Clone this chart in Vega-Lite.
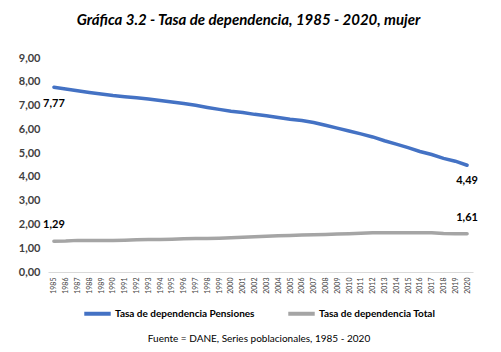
{
  "$schema": "https://vega.github.io/schema/vega-lite/v6.json",
  "width": 425,
  "height": 214,
  "autosize": {"type": "none"},
  "padding": {"left": 48, "top": 58, "right": 28, "bottom": 80},
  "background": "white",
  "config": {
    "locale": {"number": {"decimal": ",", "thousands": ".", "grouping": [3], "currency": ["$", ""]}},
    "font": "Lato",
    "view": {"stroke": null}
  },
  "title": {
    "text": "Gráfica 3.2 - Tasa de dependencia, 1985 - 2020, mujer",
    "fontSize": 15,
    "fontWeight": "bold",
    "fontStyle": "italic",
    "font": "Lato",
    "color": "#000000",
    "anchor": "middle",
    "dx": -12,
    "offset": 24
  },
  "data": {
    "values": [
      {"year": "1985", "serie": "Tasa de dependencia Pensiones", "v": 7.77},
      {"year": "1986", "serie": "Tasa de dependencia Pensiones", "v": 7.70},
      {"year": "1987", "serie": "Tasa de dependencia Pensiones", "v": 7.62},
      {"year": "1988", "serie": "Tasa de dependencia Pensiones", "v": 7.55},
      {"year": "1989", "serie": "Tasa de dependencia Pensiones", "v": 7.49},
      {"year": "1990", "serie": "Tasa de dependencia Pensiones", "v": 7.42},
      {"year": "1991", "serie": "Tasa de dependencia Pensiones", "v": 7.37},
      {"year": "1992", "serie": "Tasa de dependencia Pensiones", "v": 7.33},
      {"year": "1993", "serie": "Tasa de dependencia Pensiones", "v": 7.28},
      {"year": "1994", "serie": "Tasa de dependencia Pensiones", "v": 7.21},
      {"year": "1995", "serie": "Tasa de dependencia Pensiones", "v": 7.15},
      {"year": "1996", "serie": "Tasa de dependencia Pensiones", "v": 7.09},
      {"year": "1997", "serie": "Tasa de dependencia Pensiones", "v": 7.01},
      {"year": "1998", "serie": "Tasa de dependencia Pensiones", "v": 6.92},
      {"year": "1999", "serie": "Tasa de dependencia Pensiones", "v": 6.84},
      {"year": "2000", "serie": "Tasa de dependencia Pensiones", "v": 6.76},
      {"year": "2001", "serie": "Tasa de dependencia Pensiones", "v": 6.71},
      {"year": "2002", "serie": "Tasa de dependencia Pensiones", "v": 6.63},
      {"year": "2003", "serie": "Tasa de dependencia Pensiones", "v": 6.57},
      {"year": "2004", "serie": "Tasa de dependencia Pensiones", "v": 6.50},
      {"year": "2005", "serie": "Tasa de dependencia Pensiones", "v": 6.42},
      {"year": "2006", "serie": "Tasa de dependencia Pensiones", "v": 6.37},
      {"year": "2007", "serie": "Tasa de dependencia Pensiones", "v": 6.29},
      {"year": "2008", "serie": "Tasa de dependencia Pensiones", "v": 6.17},
      {"year": "2009", "serie": "Tasa de dependencia Pensiones", "v": 6.05},
      {"year": "2010", "serie": "Tasa de dependencia Pensiones", "v": 5.93},
      {"year": "2011", "serie": "Tasa de dependencia Pensiones", "v": 5.81},
      {"year": "2012", "serie": "Tasa de dependencia Pensiones", "v": 5.68},
      {"year": "2013", "serie": "Tasa de dependencia Pensiones", "v": 5.52},
      {"year": "2014", "serie": "Tasa de dependencia Pensiones", "v": 5.38},
      {"year": "2015", "serie": "Tasa de dependencia Pensiones", "v": 5.23},
      {"year": "2016", "serie": "Tasa de dependencia Pensiones", "v": 5.07},
      {"year": "2017", "serie": "Tasa de dependencia Pensiones", "v": 4.94},
      {"year": "2018", "serie": "Tasa de dependencia Pensiones", "v": 4.78},
      {"year": "2019", "serie": "Tasa de dependencia Pensiones", "v": 4.66},
      {"year": "2020", "serie": "Tasa de dependencia Pensiones", "v": 4.49},
      {"year": "1985", "serie": "Tasa de dependencia Total", "v": 1.29},
      {"year": "1986", "serie": "Tasa de dependencia Total", "v": 1.30},
      {"year": "1987", "serie": "Tasa de dependencia Total", "v": 1.33},
      {"year": "1988", "serie": "Tasa de dependencia Total", "v": 1.33},
      {"year": "1989", "serie": "Tasa de dependencia Total", "v": 1.33},
      {"year": "1990", "serie": "Tasa de dependencia Total", "v": 1.33},
      {"year": "1991", "serie": "Tasa de dependencia Total", "v": 1.34},
      {"year": "1992", "serie": "Tasa de dependencia Total", "v": 1.36},
      {"year": "1993", "serie": "Tasa de dependencia Total", "v": 1.37},
      {"year": "1994", "serie": "Tasa de dependencia Total", "v": 1.37},
      {"year": "1995", "serie": "Tasa de dependencia Total", "v": 1.38},
      {"year": "1996", "serie": "Tasa de dependencia Total", "v": 1.40},
      {"year": "1997", "serie": "Tasa de dependencia Total", "v": 1.41},
      {"year": "1998", "serie": "Tasa de dependencia Total", "v": 1.41},
      {"year": "1999", "serie": "Tasa de dependencia Total", "v": 1.42},
      {"year": "2000", "serie": "Tasa de dependencia Total", "v": 1.44},
      {"year": "2001", "serie": "Tasa de dependencia Total", "v": 1.46},
      {"year": "2002", "serie": "Tasa de dependencia Total", "v": 1.48},
      {"year": "2003", "serie": "Tasa de dependencia Total", "v": 1.50},
      {"year": "2004", "serie": "Tasa de dependencia Total", "v": 1.52},
      {"year": "2005", "serie": "Tasa de dependencia Total", "v": 1.54},
      {"year": "2006", "serie": "Tasa de dependencia Total", "v": 1.56},
      {"year": "2007", "serie": "Tasa de dependencia Total", "v": 1.57},
      {"year": "2008", "serie": "Tasa de dependencia Total", "v": 1.58},
      {"year": "2009", "serie": "Tasa de dependencia Total", "v": 1.60},
      {"year": "2010", "serie": "Tasa de dependencia Total", "v": 1.61},
      {"year": "2011", "serie": "Tasa de dependencia Total", "v": 1.63},
      {"year": "2012", "serie": "Tasa de dependencia Total", "v": 1.65},
      {"year": "2013", "serie": "Tasa de dependencia Total", "v": 1.65},
      {"year": "2014", "serie": "Tasa de dependencia Total", "v": 1.65},
      {"year": "2015", "serie": "Tasa de dependencia Total", "v": 1.65},
      {"year": "2016", "serie": "Tasa de dependencia Total", "v": 1.65},
      {"year": "2017", "serie": "Tasa de dependencia Total", "v": 1.65},
      {"year": "2018", "serie": "Tasa de dependencia Total", "v": 1.62},
      {"year": "2019", "serie": "Tasa de dependencia Total", "v": 1.61},
      {"year": "2020", "serie": "Tasa de dependencia Total", "v": 1.61}
    ]
  },
  "encoding": {
    "x": {
      "field": "year",
      "type": "ordinal",
      "scale": {"type": "point", "padding": 0.5},
      "axis": {
        "title": null,
        "labelAngle": -90,
        "labelFontSize": 7,
        "labelColor": "#404040",
        "labelPadding": 5,
        "ticks": false,
        "domainColor": "#d9d9d9",
        "domainWidth": 1,
        "grid": false
      }
    },
    "y": {
      "field": "v",
      "type": "quantitative",
      "scale": {"domain": [0, 9]},
      "axis": {
        "title": null,
        "values": [0, 1, 2, 3, 4, 5, 6, 7, 8, 9],
        "format": ".2f",
        "labelFontSize": 11,
        "labelFontWeight": "bold",
        "labelColor": "#404040",
        "labelPadding": 8,
        "ticks": false,
        "domain": false,
        "grid": false
      }
    }
  },
  "layer": [
    {
      "mark": {"type": "line", "strokeWidth": 3.5, "strokeCap": "round"},
      "encoding": {
        "color": {
          "field": "serie",
          "type": "nominal",
          "scale": {
            "domain": ["Tasa de dependencia Pensiones", "Tasa de dependencia Total"],
            "range": ["#4472C4", "#A5A5A5"]
          },
          "legend": {
            "orient": "none",
            "legendX": 34,
            "legendY": 240,
            "direction": "horizontal",
            "title": "Fuente = DANE, Series poblacionales, 1985 - 2020",
            "titleOrient": "bottom",
            "titleAnchor": "middle",
            "titleLimit": 600,
            "titleFontSize": 10,
            "titleFontWeight": "normal",
            "titleColor": "#000000",
            "titlePadding": 12,
            "symbolType": "stroke",
            "symbolSize": 700,
            "symbolStrokeWidth": 4,
            "labelFontSize": 10,
            "labelFontWeight": "bold",
            "labelColor": "#000000",
            "labelOffset": 2,
            "labelLimit": 300,
            "columnPadding": 25
          }
        }
      }
    },
    {
      "transform": [{"filter": "datum.year == '1985' && datum.serie == 'Tasa de dependencia Pensiones'"}],
      "mark": {"type": "text", "fontSize": 11, "fontWeight": "bold", "color": "#000000", "dy": 17},
      "encoding": {"text": {"field": "v", "type": "quantitative", "format": ".2f"}}
    },
    {
      "transform": [{"filter": "datum.year == '2020' && datum.serie == 'Tasa de dependencia Pensiones'"}],
      "mark": {"type": "text", "fontSize": 11, "fontWeight": "bold", "color": "#000000", "dy": 16},
      "encoding": {"text": {"field": "v", "type": "quantitative", "format": ".2f"}}
    },
    {
      "transform": [{"filter": "datum.year == '1985' && datum.serie == 'Tasa de dependencia Total'"}],
      "mark": {"type": "text", "fontSize": 11, "fontWeight": "bold", "color": "#000000", "dy": -16},
      "encoding": {"text": {"field": "v", "type": "quantitative", "format": ".2f"}}
    },
    {
      "transform": [{"filter": "datum.year == '2020' && datum.serie == 'Tasa de dependencia Total'"}],
      "mark": {"type": "text", "fontSize": 11, "fontWeight": "bold", "color": "#000000", "dy": -16},
      "encoding": {"text": {"field": "v", "type": "quantitative", "format": ".2f"}}
    }
  ]
}
